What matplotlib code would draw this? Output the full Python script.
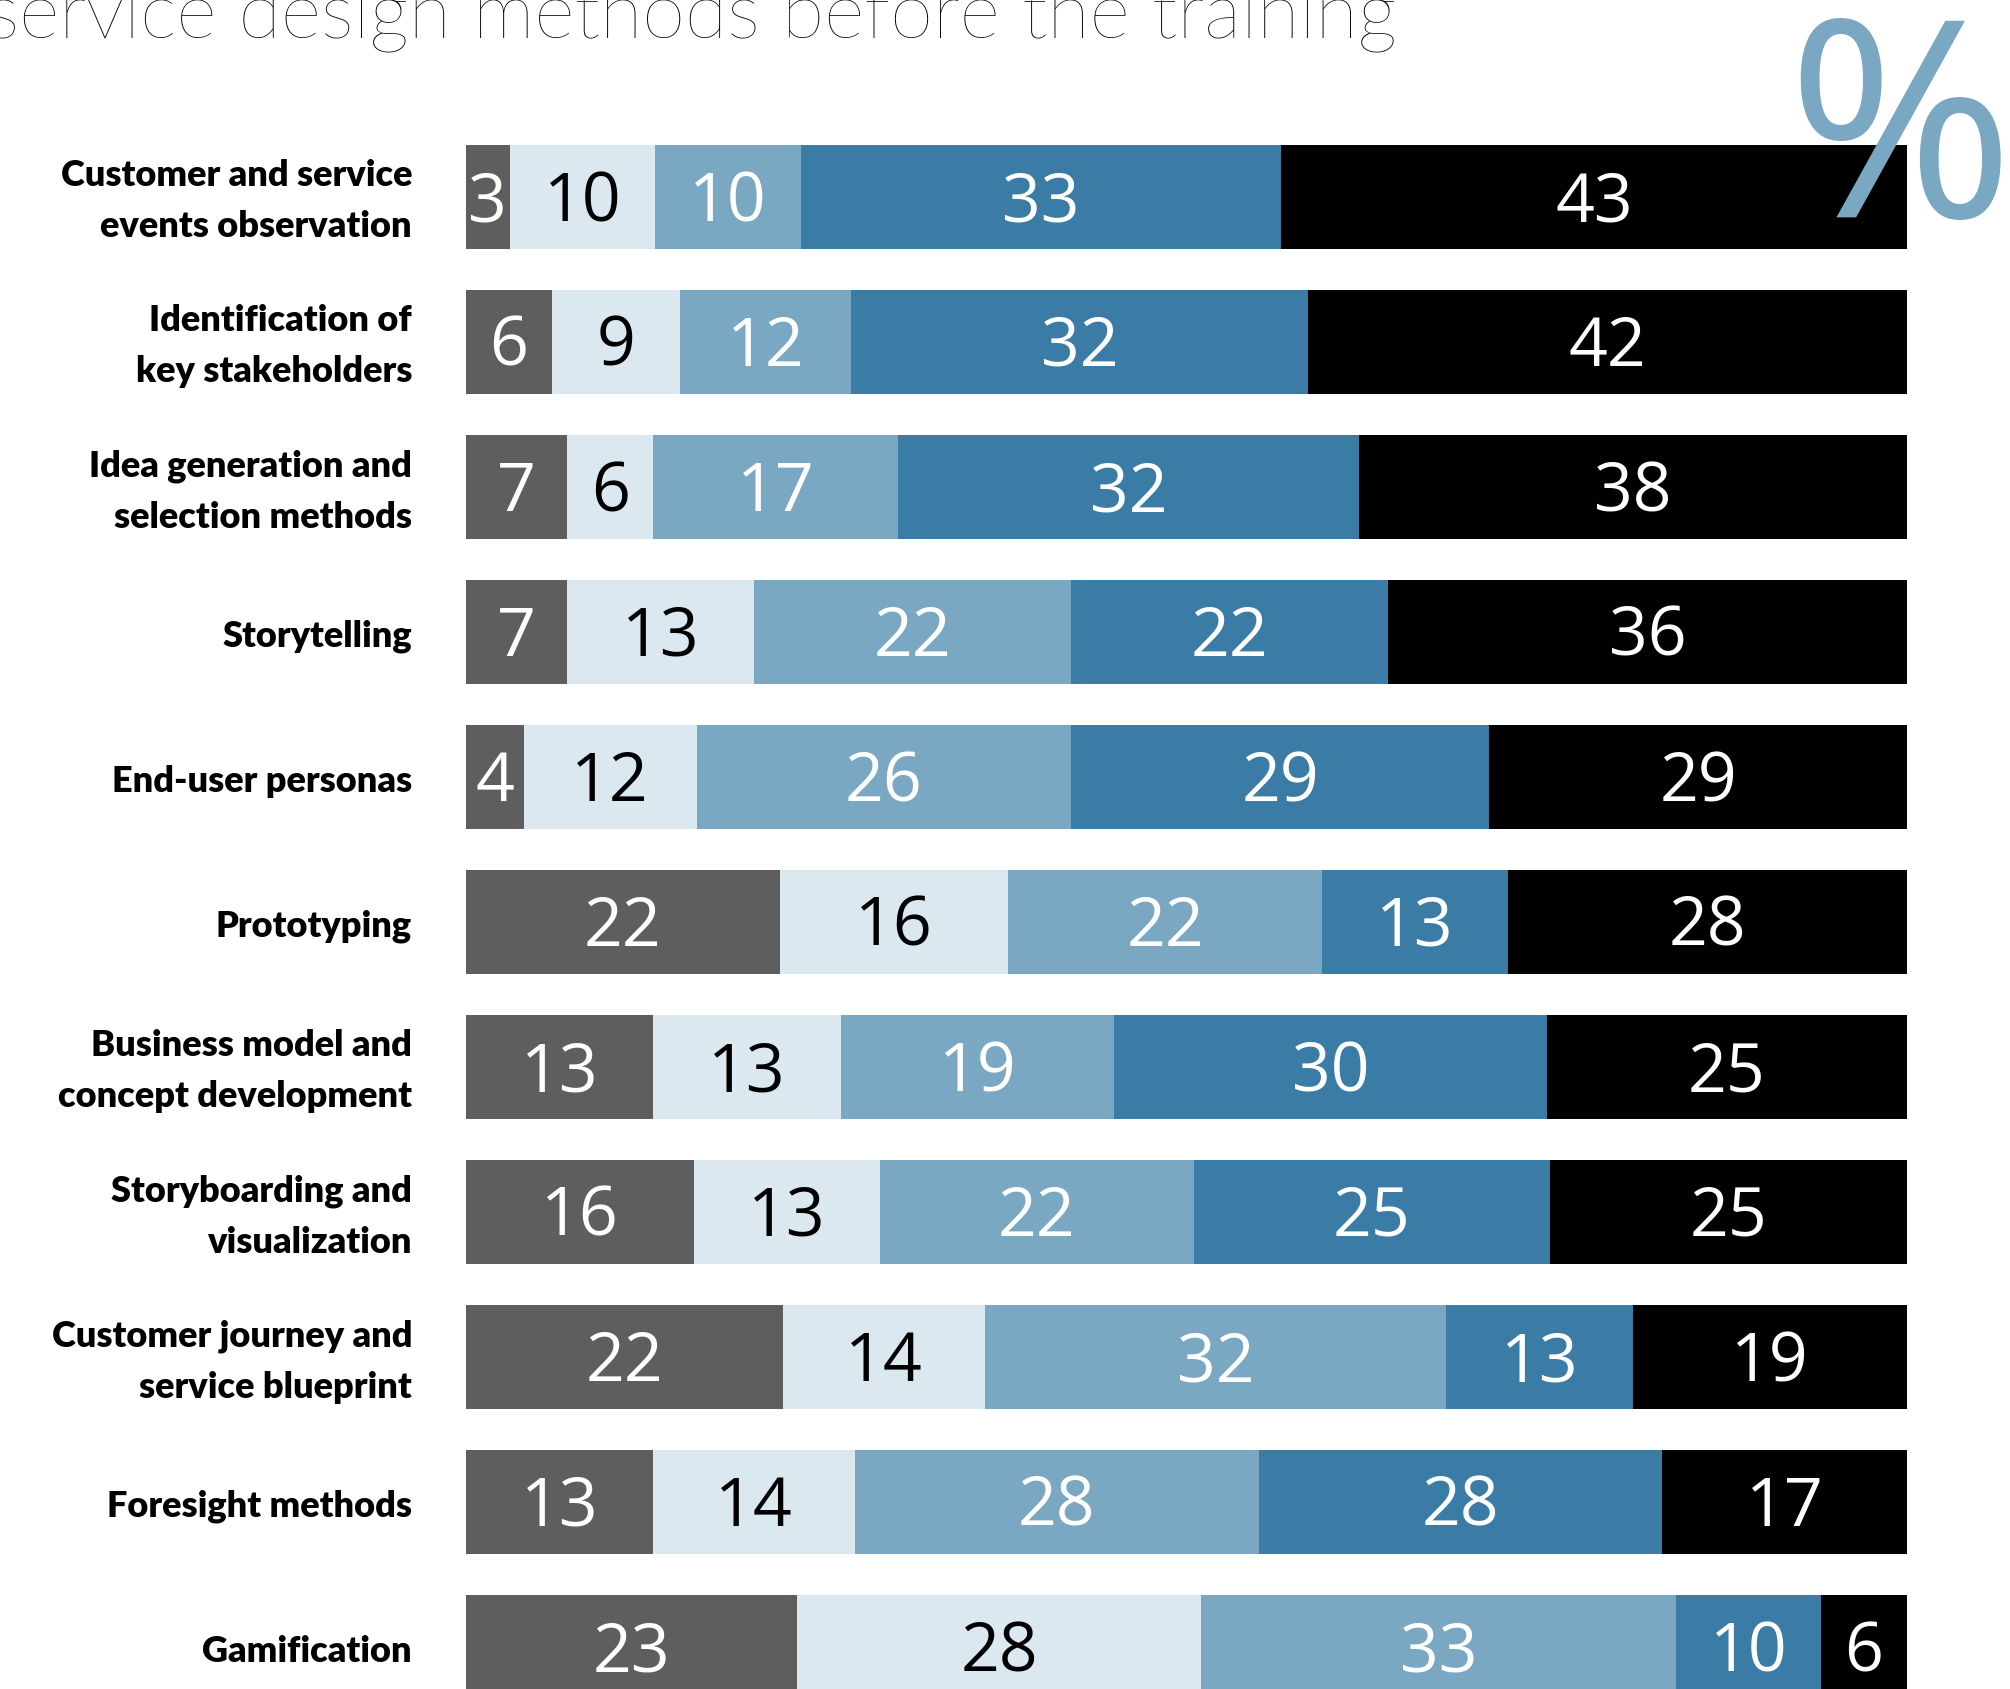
import numpy as np
import matplotlib.pyplot as plt

############################ DATA ############################
methods = ['Customer and service\nevents observation',
           'Identification of\nkey stakeholders',
           'Idea generation and\nselection methods',
           'Storytelling',
           'End-user personas',
           'Prototyping',
           'Business model and\nconcept development',
           'Storyboarding and\nvisualization',
           'Customer journey and\nservice blueprint',
           'Foresight methods',
           'Gamification']

seg1 = [3, 6, 7, 7, 4, 22, 13, 16, 22, 13, 23]
seg2 = [10, 9, 6, 13, 12, 16, 13, 13, 14, 14, 28]
seg3 = [10, 12, 17, 22, 26, 22, 19, 22, 32, 28, 33]
seg4 = [33, 32, 32, 22, 29, 13, 30, 25, 13, 28, 10]
seg5 = [43, 42, 38, 36, 29, 28, 25, 25, 19, 17, 6]

colors = ['#5e5e5e', '#dce8f0', '#7aa8c3', '#3a7ca5', '#000000']
text_colors = ['white', 'black', 'white', 'white', 'white']

title = 'Use of service design methods before the training'

############################ PLOT ############################
W, H = 2010, 1689
fig = plt.figure(figsize=(W / 100, H / 100), dpi=100)

ax = fig.add_axes([466 / W, 0, 1441 / W, 1])
y0, pitch = 197, 145
ax.set_ylim((H - y0) / pitch, -y0 / pitch)
ax.set_xlim(0, 100)
ax.axis('off')

data = np.array([seg1, seg2, seg3, seg4, seg5], dtype=float)
totals = data.sum(axis=0)
pct = data / totals * 100
ypos = np.arange(len(methods))
left = np.zeros(len(methods))
# baseline offset so the digits sit in the middle of the bar
dy = 24 / pitch
for k in range(5):
    ax.barh(ypos, pct[k], left=left, height=0.724, color=colors[k], edgecolor='none')
    for i in range(len(methods)):
        ax.text(left[i] + pct[k][i] / 2, ypos[i] + dy, str(int(data[k][i])),
                ha='center', va='baseline', color=text_colors[k],
                fontsize=49, family='Open Sans')
    left += pct[k]

for i, m in enumerate(methods):
    ax.text(-(466 - 412) / 1441 * 100, ypos[i] + 0.03, m, ha='right', va='center',
            fontsize=26, fontweight='heavy', family='Lato', linespacing=1.66)

# title runs off the top-left corner, as in the original page crop
fig.text(1397 / W, 1 - 38 / H, title, ha='right', va='baseline',
         fontsize=56, fontweight='light', family='Lato', color='black')
fig.text(1786 / W, 1 - 217 / H, '%', ha='left', va='baseline',
         fontsize=198, family='Open Sans', color='#7aa8c3')

fig.savefig('out.png', dpi=100)
